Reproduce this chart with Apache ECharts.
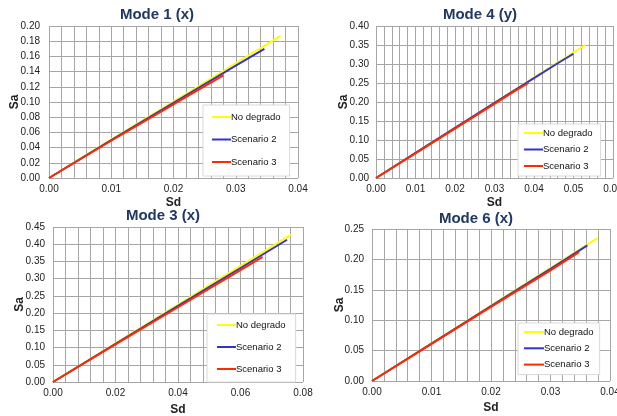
<!DOCTYPE html>
<html>
<head>
<meta charset="utf-8">
<script src="https://cdn.jsdelivr.net/npm/echarts@6/dist/echarts.min.js"></script>
<style>
  html, body { margin: 0; padding: 0; background: #ffffff; }
  #chart { width: 617px; height: 416px; }
</style>
</head>
<body>
<div id="chart"></div>
<script>
// ---- data ----
const seriesNames = ['No degrado', 'Scenario 2', 'Scenario 3'];
const titles = ['Mode 1 (x)', 'Mode 4 (y)', 'Mode 3 (x)', 'Mode 6 (x)'];

// Mode 1 (x)  [Sd, Sa]
const mode1NoDegrado = [[0, 0], [0.01, 0.051], [0.02, 0.1005], [0.03, 0.151], [0.0372, 0.187]];
const mode1Scenario2 = [[0, 0], [0.01, 0.050], [0.02, 0.099], [0.03, 0.148], [0.0346, 0.170]];
const mode1Scenario3 = [[0, 0], [0.01, 0.049], [0.02, 0.097], [0.028, 0.135]];

// Mode 4 (y)
const mode4NoDegrado = [[0, 0], [0.01, 0.066], [0.02, 0.132], [0.03, 0.198], [0.04, 0.264], [0.053, 0.350]];
const mode4Scenario2 = [[0, 0], [0.01, 0.066], [0.02, 0.132], [0.03, 0.198], [0.04, 0.263], [0.046, 0.302], [0.050, 0.327]];
const mode4Scenario3 = [[0, 0], [0.01, 0.065], [0.02, 0.130], [0.03, 0.195], [0.035, 0.228], [0.0386, 0.250]];

// Mode 3 (x)
const mode3NoDegrado = [[0, 0], [0.02, 0.1125], [0.04, 0.225], [0.06, 0.337], [0.0762, 0.428]];
const mode3Scenario2 = [[0, 0], [0.02, 0.111], [0.04, 0.221], [0.06, 0.331], [0.0749, 0.413]];
const mode3Scenario3 = [[0, 0], [0.02, 0.109], [0.04, 0.217], [0.06, 0.325], [0.0671, 0.363]];

// Mode 6 (x)
const mode6NoDegrado = [[0, 0], [0.01, 0.062], [0.02, 0.124], [0.03, 0.186], [0.0379, 0.235]];
const mode6Scenario2 = [[0, 0], [0.01, 0.0615], [0.02, 0.123], [0.03, 0.1845], [0.0362, 0.223]];
const mode6Scenario3 = [[0, 0], [0.01, 0.061], [0.02, 0.122], [0.03, 0.182], [0.0348, 0.212]];

// axis ranges: [min, max, major interval]
const xRanges = [[0, 0.04, 0.01], [0, 0.06, 0.01], [0, 0.08, 0.02], [0, 0.04, 0.01]];
const yRanges = [[0, 0.20, 0.02], [0, 0.40, 0.05], [0, 0.45, 0.05], [0, 0.25, 0.05]];

const seriesData = [
  [mode1NoDegrado, mode1Scenario2, mode1Scenario3],
  [mode4NoDegrado, mode4Scenario2, mode4Scenario3],
  [mode3NoDegrado, mode3Scenario2, mode3Scenario3],
  [mode6NoDegrado, mode6Scenario2, mode6Scenario3]
];

// ---- layout / style ----
const colors = ['#FFFF00', '#3333CC', '#FF2A00'];
const font = "'Liberation Sans', Arial, sans-serif";
const gridBoxes = [
  { left: 49, top: 26, width: 249, height: 152 },
  { left: 376, top: 26, width: 237, height: 152 },
  { left: 53, top: 227, width: 250, height: 155 },
  { left: 372, top: 229, width: 238, height: 152 }
];
const titlePos = [[157, 7], [480, 7], [163, 208], [476, 211]];
const yNameGap = [28, 26, 27, 26];
const xNameGap = [19, 19, 22, 21];
const yLabelMargin = [9, 7, 8, 8];
const legendBoxes = [
  { left: 203, top: 105, pad: [7, 9, 9, 9], gap: 12.5 },
  { left: 518, top: 124, pad: [4, 8, 5, 6], gap: 6.5 },
  { left: 207, top: 314, pad: [6, 10, 8, 10], gap: 12 },
  { left: 518, top: 323, pad: [4, 6, 5, 6], gap: 6.3 }
];
const legendItemW = [19, 19, 19, 20];

const gridColor = '#A6A6A6';

const option = {
  backgroundColor: '#ffffff',
  animation: false,
  title: titles.map((t, i) => ({
    text: t,
    left: titlePos[i][0],
    top: titlePos[i][1],
    textAlign: 'center',
    padding: 0,
    textStyle: { fontFamily: font, fontWeight: 'bold', fontSize: 15, color: '#1F3864' }
  })),
  grid: gridBoxes.map(g => Object.assign({ containLabel: false, outerBoundsMode: 'none' }, g)),
  xAxis: xRanges.map((r, i) => ({
    type: 'value', gridIndex: i, min: r[0], max: r[1], interval: r[2],
    name: 'Sd', nameLocation: 'middle', nameGap: xNameGap[i], nameMoveOverlap: false,
    nameTextStyle: { fontFamily: font, fontWeight: 'bold', fontSize: 12, color: '#222' },
    axisLine: { show: false }, axisTick: { show: false },
    axisLabel: { fontFamily: font, fontSize: 10, color: '#222', margin: 6,
      hideOverlap: false, showMaxLabel: true, showMinLabel: true,
      formatter: v => v.toFixed(2) },
    splitLine: { show: true, lineStyle: { color: gridColor, width: 1 } },
    minorTick: { show: false, splitNumber: 5 },
    minorSplitLine: { show: true, lineStyle: { color: gridColor, width: 1 } }
  })),
  yAxis: yRanges.map((r, i) => ({
    type: 'value', gridIndex: i, min: r[0], max: r[1], interval: r[2],
    name: 'Sa', nameLocation: 'middle', nameGap: yNameGap[i], nameMoveOverlap: false,
    nameTextStyle: { fontFamily: font, fontWeight: 'bold', fontSize: 12, color: '#222' },
    axisLine: { show: false }, axisTick: { show: false },
    axisLabel: { fontFamily: font, fontSize: 10, color: '#222', margin: yLabelMargin[i],
      formatter: v => v.toFixed(2) },
    splitLine: { show: true, lineStyle: { color: gridColor, width: 1 } }
  })),
  legend: legendBoxes.map((b, i) => ({
    orient: 'vertical',
    left: b.left, top: b.top,
    padding: b.pad,
    itemGap: b.gap,
    itemWidth: legendItemW[i], itemHeight: 2,
    icon: 'rect',
    backgroundColor: '#ffffff',
    borderColor: '#D9D9D9', borderWidth: 1,
    selectedMode: false,
    data: seriesNames,
    textStyle: { fontFamily: font, fontSize: 9.5, color: '#111', padding: [0, 0, 0, -5] }
  })),
  series: []
};

seriesData.forEach((group, gi) => {
  group.forEach((data, si) => {
    option.series.push({
      type: 'line',
      name: seriesNames[si],
      xAxisIndex: gi, yAxisIndex: gi,
      data: data,
      symbol: 'none',
      smooth: false,
      color: colors[si],
      lineStyle: { color: colors[si], width: 2 },
      z: 2 + si
    });
  });
});

const chart = echarts.init(document.getElementById('chart'), null, { renderer: 'canvas' });
chart.setOption(option);
</script>
</body>
</html>
